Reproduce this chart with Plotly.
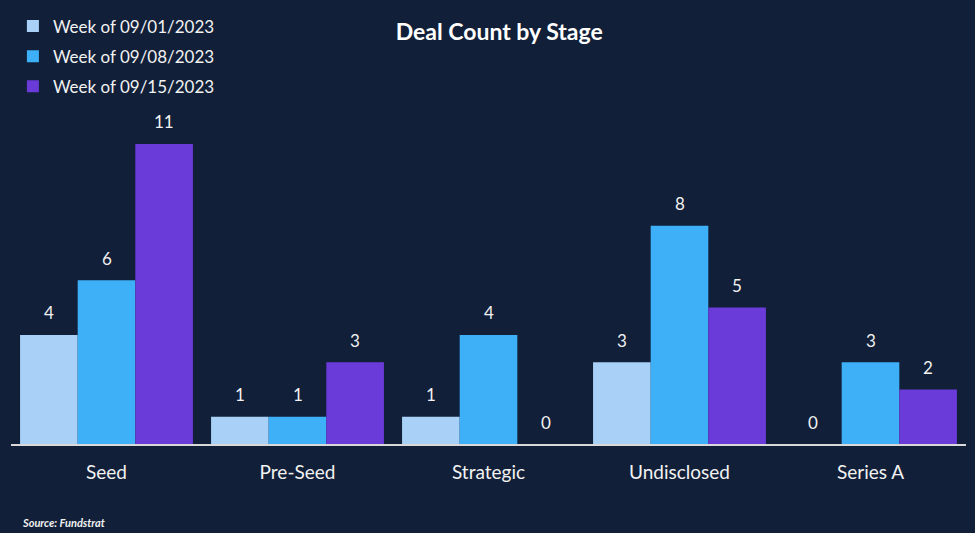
import plotly.graph_objects as go

categories = ["Seed", "Pre-Seed", "Strategic", "Undisclosed", "Series A"]
series_names = ["Week of 09/01/2023", "Week of 09/08/2023", "Week of 09/15/2023"]
week1 = [4, 1, 1, 3, 0]
week2 = [6, 1, 4, 8, 3]
week3 = [11, 3, 0, 5, 2]
colors = ["#A9D1F8", "#3DB0F8", "#6A3BD8"]

BG = "#111F38"
FONT = "Lato, 'Open Sans', sans-serif"
BARGAP = 0.095
PLOT_W = 955

fig = go.Figure()
annotations = []
bar_px = PLOT_W / len(categories) * (1 - BARGAP) / 3
for i, (name, vals, c) in enumerate(zip(series_names, [week1, week2, week3], colors)):
    fig.add_trace(go.Bar(
        x=categories, y=vals, name=name, legendgroup=f"g{i}",
        marker=dict(color=c, line=dict(width=0)),
        hoverinfo="x+y+name",
    ))
    for cat, v in zip(categories, vals):
        annotations.append(dict(
            x=cat, y=v, xref="x", yref="y", text=str(v), showarrow=False,
            xshift=(i - 1) * bar_px, yshift=22, yanchor="middle", xanchor="center",
            font=dict(color="#F2F2F2", size=17, family=FONT),
        ))

annotations.append(dict(text="<b><i>Source: Fundstrat</i></b>", x=9 / 955, y=-(522 - 444) / 344,
                        xref="paper", yref="paper",
                        xanchor="left", yanchor="middle", showarrow=False,
                        font=dict(color="#F2F2F2", size=11, family=FONT)))

fig.update_layout(
    width=975, height=533,
    paper_bgcolor=BG, plot_bgcolor=BG,
    barmode="group", bargap=BARGAP, bargroupgap=0,
    margin=dict(l=11, r=9, t=100, b=89, autoexpand=False),
    title=dict(text="<b>Deal Count by Stage</b>", x=0.512, xanchor="center", y=0.94, yanchor="middle",
               font=dict(color="white", size=23, family=FONT)),
    legend=dict(x=0.002, y=0.984, xanchor="left", yanchor="top", yref="container",
                font=dict(color="#F2F2F2", size=17, family=FONT),
                bgcolor="rgba(0,0,0,0)", itemwidth=30, tracegroupgap=5, traceorder="grouped"),
    xaxis=dict(showgrid=False, showline=True, linecolor="#D9D9D9", linewidth=2,
               tickfont=dict(color="#F2F2F2", size=19, family=FONT), ticks="", ticklabelstandoff=10),
    yaxis=dict(visible=False, range=[0, 12.61], showgrid=False, zeroline=False),
    annotations=annotations,
)

fig.write_html("out.html", config={"displayModeBar": False})
with open("out.html", "r", encoding="utf-8") as f:
    html = f.read()
html = html.replace("<head>", "<head><style>html,body{margin:0;padding:0;background:#111F38;}</style>", 1)
with open("out.html", "w", encoding="utf-8") as f:
    f.write(html)
